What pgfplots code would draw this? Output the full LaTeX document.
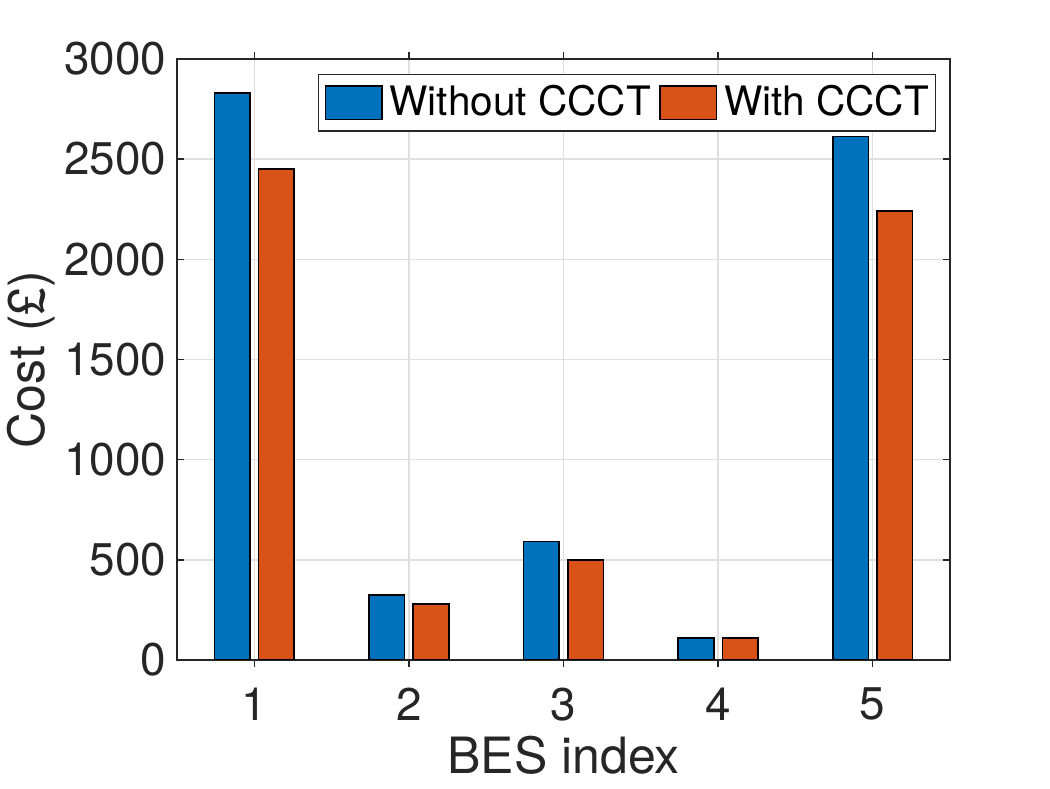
\documentclass[border=0pt]{standalone}
\usepackage{pgfplots}
\pgfplotsset{compat=1.18}
\usepackage{fontspec}
\setmainfont{TeX Gyre Heros}
\definecolor{mblue}{RGB}{0,114,189}
\definecolor{morange}{RGB}{217,83,25}
\definecolor{axgray}{RGB}{38,38,38}
\definecolor{gridgray}{RGB}{223,223,223}
\begin{document}
\begin{tikzpicture}
\useasboundingbox (-63.7pt,-46.1pt) rectangle (314.3pt,237.6pt);
\begin{axis}[
  at={(0,0)}, anchor=south west,
  scale only axis, width=278.3pt, height=216.4pt,
  xmin=0.5, xmax=5.5, ymin=0, ymax=3000,
  xtick={1,2,3,4,5}, ytick={0,500,...,3000},
  tick align=inside, major tick length=2.5pt,
  axis line style={axgray, line width=0.5pt},
  tick style={axgray, line width=0.5pt},
  grid=major, major grid style={gridgray, line width=0.5pt},
  ticklabel style={font=\fontsize{16.5}{19}\selectfont, text=axgray},
  /pgf/number format/assume math mode=true,
  /pgf/number format/1000 sep={},
  xticklabel shift=4.0pt,
  yticklabel shift=0.3pt,
  label style={font=\fontsize{18}{21}\selectfont, text=axgray},
  xlabel={BES index}, ylabel={Cost (£)},
  xlabel style={at={(axis description cs:0.5,-0.188)}, anchor=base},
  ylabel style={at={(axis description cs:-0.1883,0.5)}, anchor=center},
  ybar, bar width=0.23,
  legend columns=2,
  legend style={at={(axis description cs:0.982,0.975)}, anchor=north east,
    draw=axgray, line width=0.5pt, font=\fontsize{14.6}{17}\selectfont, text=black,
    inner xsep=2.3pt, inner ysep=3.8pt,
    nodes={inner sep=0pt},
    /tikz/every odd column/.append style={column sep=2.5pt},
    /tikz/every even column/.append style={column sep=3pt}},
  legend cell align=left,
]
\addplot[fill=mblue, draw=black, line width=0.6pt, bar shift=-0.143,
  legend image code/.code={\draw[fill=mblue, draw=black, line width=0.5pt] (0pt,-6.1pt) rectangle (20.4pt,6.1pt);}]
  coordinates {(1,2830) (2,326) (3,591) (4,111) (5,2613)};
\addlegendentry{Without CCCT}
\addplot[fill=morange, draw=black, line width=0.6pt, bar shift=0.143,
  legend image code/.code={\draw[fill=morange, draw=black, line width=0.5pt] (0pt,-6.1pt) rectangle (20.4pt,6.1pt);}]
  coordinates {(1,2452) (2,281) (3,498) (4,110) (5,2242)};
\addlegendentry{With CCCT}
\end{axis}
\end{tikzpicture}
\end{document}
